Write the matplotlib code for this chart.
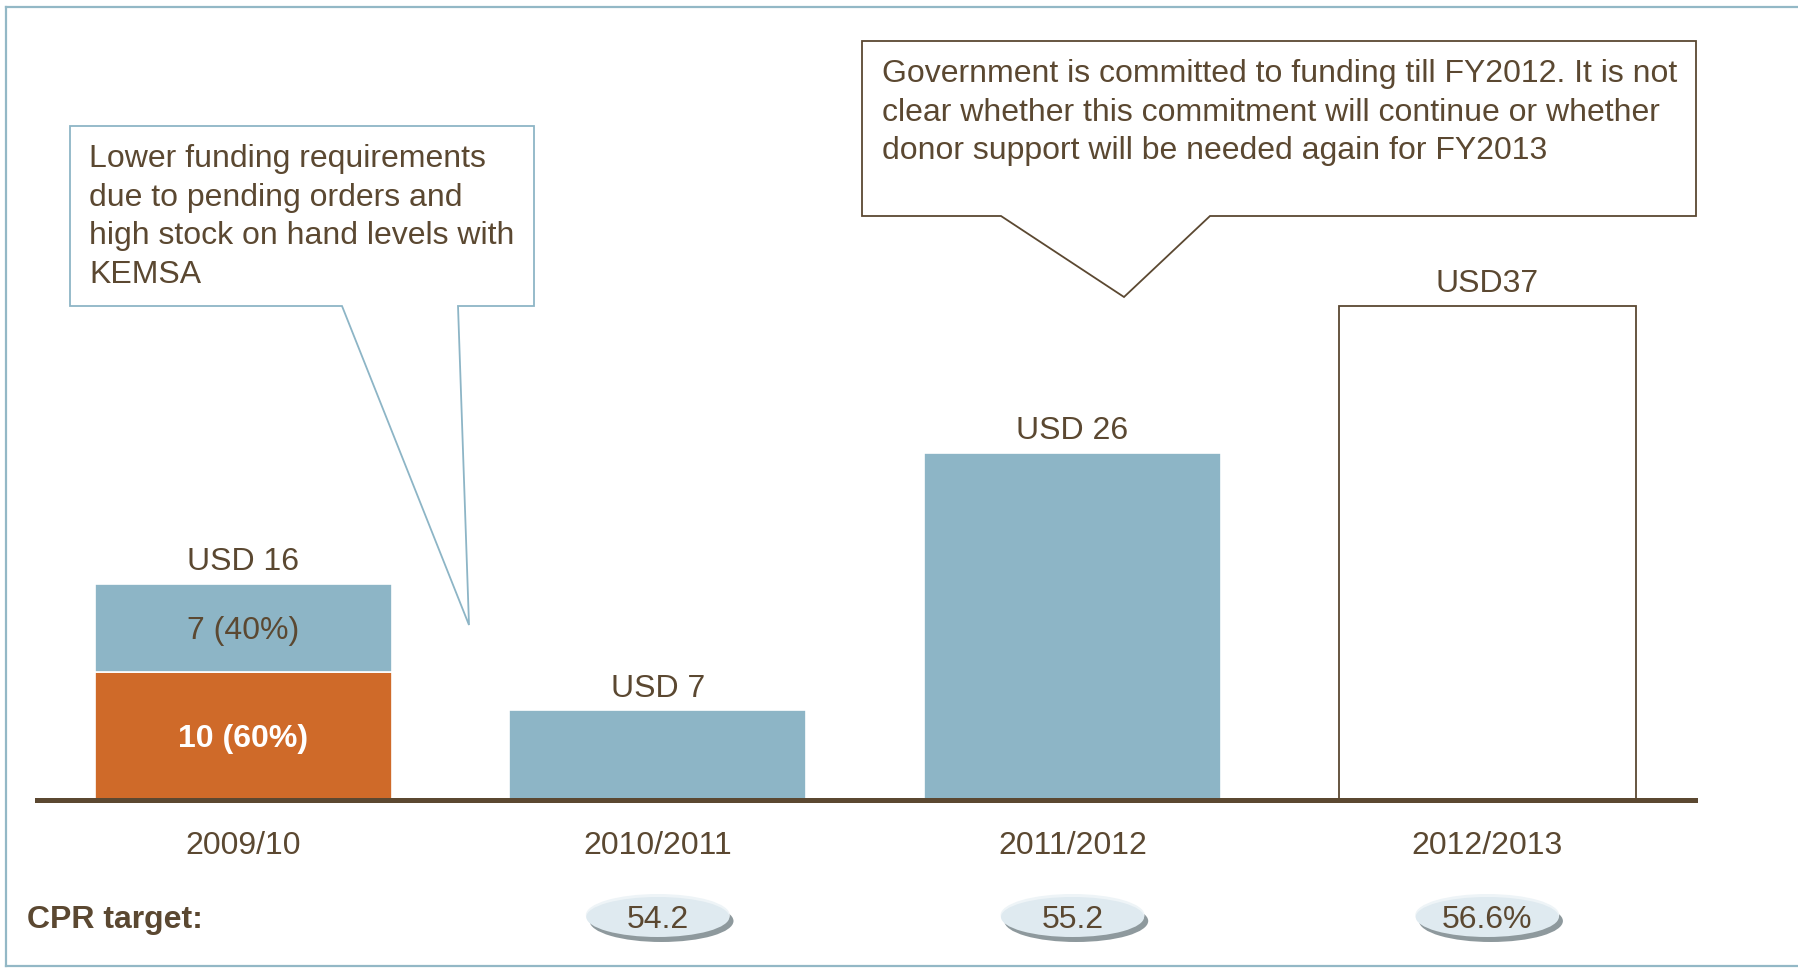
import matplotlib.pyplot as plt
from matplotlib.patches import Polygon, Ellipse
from matplotlib.transforms import blended_transform_factory

plt.rcParams['font.family'] = ['Liberation Sans', 'DejaVu Sans']

# funding requirement per financial year (USD millions)
years = ['2009/10', '2010/2011', '2011/2012', '2012/2013']
govt_funded = [9.6, 0, 0, 0]
donor_funded = [6.6, 6.7, 26, 0]
unfunded = [0, 0, 0, 37]
split_pct = [60, 40]  # government / donor share of 2009/10
total_fmt = ['USD {:.0f}', 'USD {:.0f}', 'USD {:.0f}', 'USD{:.0f}']
cpr_targets = [None, '54.2', '55.2', '56.6%']

note_left = ['Lower funding requirements',
             'due to pending orders and',
             'high stock on hand levels with',
             'KEMSA']
note_right = ['Government is committed to funding till FY2012. It is not',
              'clear whether this commitment will continue or whether',
              'donor support will be needed again for FY2013']

BROWN = '#5b4831'
BLUE = '#8db5c6'
ORANGE = '#cf6a29'
FS = 23
HALF_CAP = 11.4  # px, half cap height at FS

W, H = 1798, 968
fig = plt.figure(figsize=(W / 100, H / 100), dpi=100)
fig.patch.set_facecolor('white')

# main bar axes: baseline at y=800px, categories spaced ~415px apart
ax = fig.add_axes([37 / W, (H - 800) / H, (1695 - 37) / W, 700 / H])
# overlay in pixel units (y downwards) for the frame
ov = fig.add_axes([0, 0, 1, 1], zorder=-1)
ov.set_xlim(0, W)
ov.set_ylim(H, 0)
ov.axis('off')
ax.patch.set_alpha(0)

x = list(range(len(years)))
width = 0.716
ax.bar(x, govt_funded, width, color=ORANGE, edgecolor='white', linewidth=1.2, zorder=2)
ax.bar(x, donor_funded, width, bottom=govt_funded, color=BLUE,
       edgecolor='white', linewidth=1.2, zorder=2)
ax.bar(x, unfunded, width, color='white', edgecolor=BROWN, linewidth=1.3, zorder=2)

ax.set_xlim(-0.497, 3.501)
ax.set_ylim(0, 52.4)
for side in ['top', 'right', 'left']:
    ax.spines[side].set_visible(False)
ax.spines['bottom'].set_color(BROWN)
ax.spines['bottom'].set_linewidth(3.6)
ax.spines['bottom'].set_zorder(3)
ax.set_yticks([])
ax.set_xticks(x, years, fontsize=FS, color=BROWN)
ax.tick_params(axis='x', length=0, pad=22)

# totals above bars and segment labels for the split bar
cap_pt = HALF_CAP * 72 / 100
for i in x:
    total = govt_funded[i] + donor_funded[i] + unfunded[i]
    ax.annotate(total_fmt[i].format(total), (i, total), xytext=(0, 10),
                textcoords='offset points', ha='center', va='baseline',
                fontsize=FS, color=BROWN)
    if govt_funded[i] and donor_funded[i]:
        g, d = govt_funded[i], donor_funded[i]
        ax.annotate(f'{g:.0f} ({split_pct[0]}%)', (i, g / 2), xytext=(0, -cap_pt),
                    textcoords='offset points', ha='center', va='baseline',
                    fontsize=FS, color='white', fontweight='bold', zorder=4)
        ax.annotate(f'{d:.0f} ({split_pct[1]}%)', (i, g + d / 2), xytext=(0, -cap_pt),
                    textcoords='offset points', ha='center', va='baseline',
                    fontsize=FS, color=BROWN, zorder=4)

# outer frame (open on the right)
ov.plot([5.5, 5.5], [7, 966], color='#93b8c6', lw=1.6)
ov.plot([5.5, W], [7, 7], color='#93b8c6', lw=1.6)
ov.plot([5.5, W], [966, 966], color='#93b8c6', lw=1.6)

# callout boxes (drawn on top of the bar axes)
top = fig.add_axes([0, 0, 1, 1], zorder=5)
top.set_xlim(0, W)
top.set_ylim(H, 0)
top.axis('off')
top.add_patch(Polygon([(70, 126), (534, 126), (534, 306), (458, 306), (469, 625),
                       (342, 306), (70, 306)], closed=True, facecolor='white',
                      edgecolor=BLUE, lw=1.3))
for k, line in enumerate(note_left):
    top.text(89, 156 + HALF_CAP + k * 38.4, line, fontsize=FS, color=BROWN,
             va='baseline')
top.add_patch(Polygon([(862, 41), (1696, 41), (1696, 216), (1210, 216), (1124, 297),
                       (1001, 216), (862, 216)], closed=True, facecolor='white',
                      edgecolor=BROWN, lw=1.3))
for k, line in enumerate(note_right):
    top.text(882, 71 + HALF_CAP + k * 38.2, line, fontsize=FS, color=BROWN,
             va='baseline')

# CPR target row
top.text(27, 917 + HALF_CAP, 'CPR target:', fontsize=FS, fontweight='bold',
         color=BROWN, va='baseline')
tr = blended_transform_factory(ax.transData, top.transData)
for i, val in enumerate(cpr_targets):
    if val is None:
        continue
    top.add_patch(Ellipse((i + 0.009, 921), 0.347, 42, transform=tr,
                          facecolor='#8e999d', edgecolor='none'))
    top.add_patch(Ellipse((i, 915), 0.347, 42, transform=tr,
                          facecolor='#eef4f7', edgecolor='none'))
    top.add_patch(Ellipse((i, 917), 0.345, 40, transform=tr,
                          facecolor='#dfeaf0', edgecolor='none'))
    top.text(i, 917 + HALF_CAP, val, transform=tr, ha='center', va='baseline',
             fontsize=FS, color=BROWN)

fig.savefig('out.png', dpi=100)
